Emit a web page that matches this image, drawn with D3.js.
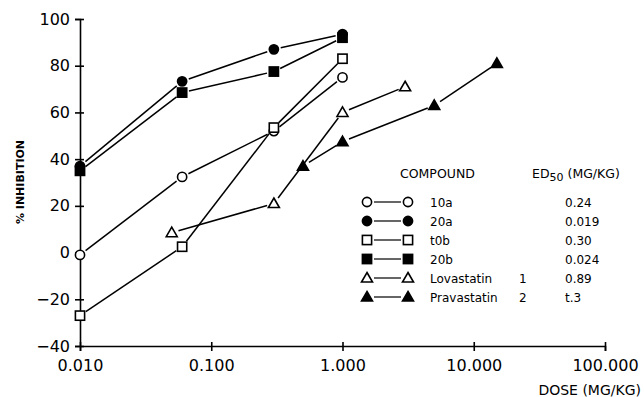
<!DOCTYPE html>
<html>
<head>
<meta charset="utf-8">
<script src="https://cdn.jsdelivr.net/npm/d3@7"></script>
<style>
  body { margin: 0; background: #fff; }
  text { font-family: "DejaVu Sans", sans-serif; fill: #000; }
</style>
</head>
<body>
<div id="chart"></div>
<script>
// doses (mg/kg) and % inhibition
var doseMain = [0.01, 0.06, 0.3, 1.0];
var inh10a = [-1, 32.4, 52, 75];
var inh20a = [37, 73.3, 87, 93.5];
var inh10b = [-27, 2.5, 53.5, 83];
var inh20b = [35, 68.5, 77.5, 92];
var doseLova = [0.05, 0.3, 1.0, 3.0];
var inhLova = [8.5, 21, 60, 71];
var dosePrava = [0.5, 1.0, 5.0, 15];
var inhPrava = [37, 47.5, 63, 81];

var compoundNames = ["10a", "20a", "t0b", "20b", "Lovastatin", "Pravastatin"];
var compoundNums = ["", "", "", "", "1", "2"];
var ed50Values = ["0.24", "0.019", "0.30", "0.024", "0.89", "t.3"];
var markerShapes = ["circle", "circle", "square", "square", "triangle", "triangle"];
var markerFilled = [false, true, false, true, false, true];

var xTicks = [0.01, 0.1, 1, 10, 100];
var yTicks = [-40, -20, 0, 20, 40, 60, 80, 100];

var svgWidth = 644, svgHeight = 397;
var margin = {top: 19, right: 39, bottom: 51, left: 80};
var width = svgWidth - margin.left - margin.right;
var height = svgHeight - margin.top - margin.bottom;

var svg = d3.select("#chart").append("svg")
    .attr("width", svgWidth)
    .attr("height", svgHeight);
var g = svg.append("g")
    .attr("transform", `translate(${margin.left}, ${margin.top})`);

var x = d3.scaleLog().domain([0.01, 100]).range([0, width]);
var y = d3.scaleLinear().domain([-40, 100]).range([height, 0]);

// axes
var xAxis = g.append("g")
    .attr("transform", `translate(0, ${height})`)
    .call(d3.axisBottom(x).tickValues(xTicks).tickFormat(d3.format(".3f")).tickSize(5).tickPadding(9));
var yAxis = g.append("g")
    .call(d3.axisLeft(y).tickValues(yTicks).tickFormat(d => d < 0 ? "\u2212" + Math.abs(d) : d).tickSize(5).tickPadding(5));

[xAxis, yAxis].forEach(ax => {
    ax.select(".domain").attr("stroke", "#000").attr("stroke-width", 1.6);
    ax.selectAll(".tick line").attr("stroke", "#000").attr("stroke-width", 1.6);
    ax.selectAll(".tick text").attr("font-size", 16).style("font-family", "DejaVu Sans, sans-serif");
});
// ticks cross the axis line
xAxis.selectAll(".tick line").attr("y1", -4).attr("y2", 5);
yAxis.selectAll(".tick line").attr("x1", 4).attr("x2", -5);

// axis titles
svg.append("text")
    .attr("transform", "translate(24, 182) rotate(-90)")
    .attr("text-anchor", "middle")
    .attr("font-size", 11)
    .attr("font-weight", "bold")
    .text("% INHIBITION");
svg.append("text")
    .attr("x", 641).attr("y", 395)
    .attr("text-anchor", "end")
    .attr("font-size", 14)
    .text("DOSE (MG/KG)");

// draw a marker at px, py
function marker(sel, shape, filled, px, py) {
    var fill = filled ? "#000" : "#fff";
    if (shape === "circle") {
        sel.append("circle").attr("cx", px).attr("cy", py).attr("r", 4.6)
            .attr("fill", fill).attr("stroke", "#000").attr("stroke-width", 1.6);
    } else if (shape === "square") {
        sel.append("rect").attr("x", px - 4.6).attr("y", py - 4.6)
            .attr("width", 9.2).attr("height", 9.2)
            .attr("fill", fill).attr("stroke", "#000").attr("stroke-width", 1.6);
    } else {
        sel.append("path")
            .attr("d", `M${px},${py - 5.5}L${px + 5.5},${py + 4}L${px - 5.5},${py + 4}Z`)
            .attr("fill", fill).attr("stroke", "#000").attr("stroke-width", 1.6)
            .attr("stroke-linejoin", "miter");
    }
}

var series = [
    {dose: doseMain, inh: inh10a},
    {dose: doseMain, inh: inh20a},
    {dose: doseMain, inh: inh10b},
    {dose: doseMain, inh: inh20b},
    {dose: doseLova, inh: inhLova},
    {dose: dosePrava, inh: inhPrava}
];

var gap = 7;
series.forEach((s, i) => {
    var pts = s.dose.map((d, k) => [x(d), y(s.inh[k])]);
    var sg = g.append("g");
    // segments stop short of the markers
    for (var k = 0; k < pts.length - 1; k++) {
        var a = pts[k], b = pts[k + 1];
        var dx = b[0] - a[0], dy = b[1] - a[1];
        var len = Math.sqrt(dx * dx + dy * dy);
        var ux = dx / len, uy = dy / len;
        sg.append("line")
            .attr("x1", a[0] + ux * gap).attr("y1", a[1] + uy * gap)
            .attr("x2", b[0] - ux * gap).attr("y2", b[1] - uy * gap)
            .attr("stroke", "#000").attr("stroke-width", 1.5);
    }
    pts.forEach(p => marker(sg, markerShapes[i], markerFilled[i], p[0], p[1]));
});

// legend table
var lg = svg.append("g");
lg.append("text").attr("x", 400).attr("y", 178).attr("font-size", 12.5).text("COMPOUND");
var edHead = lg.append("text").attr("x", 532).attr("y", 178).attr("font-size", 12.5);
edHead.append("tspan").text("ED");
edHead.append("tspan").attr("dy", 3).attr("font-size", 11).text("50");
edHead.append("tspan").attr("dy", -3).text(" (MG/KG)");

compoundNames.forEach((name, i) => {
    var cy = 202 + i * 19;
    lg.append("line")
        .attr("x1", 374).attr("x2", 401).attr("y1", cy).attr("y2", cy)
        .attr("stroke", "#000").attr("stroke-width", 1.2);
    marker(lg, markerShapes[i], markerFilled[i], 367, cy);
    marker(lg, markerShapes[i], markerFilled[i], 408, cy);
    lg.append("text").attr("x", 430).attr("y", cy + 4.5).attr("font-size", 12).text(name);
    lg.append("text").attr("x", 519).attr("y", cy + 4.5).attr("font-size", 12).text(compoundNums[i]);
    lg.append("text").attr("x", 565).attr("y", cy + 4.5).attr("font-size", 12).text(ed50Values[i]);
});
</script>
</body>
</html>
